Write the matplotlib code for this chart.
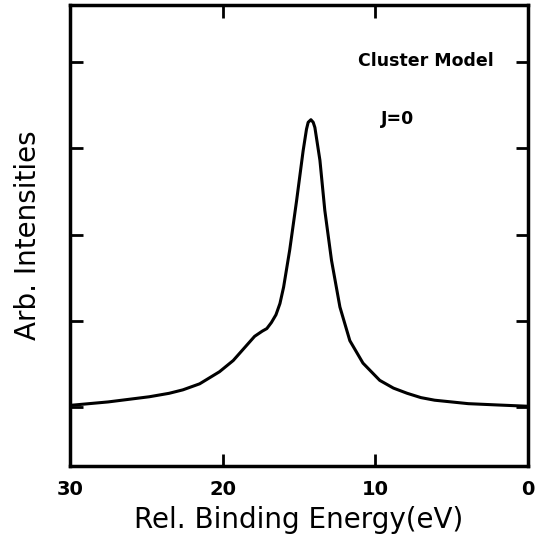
"""Cluster model spectrum (J=0): arbitrary intensity vs relative binding energy."""

import matplotlib.pyplot as plt

# curve values
energy = [30.0, 27.5, 24.8, 23.5, 22.6, 21.5, 20.2, 19.3, 18.5, 17.9, 17.4, 17.1,
          16.8, 16.5, 16.24, 16.0, 15.6, 15.15, 14.72, 14.5, 14.39, 14.21, 14.06,
          13.95, 13.62, 13.3, 12.86, 12.31, 11.66, 10.8, 9.7, 8.8, 7.9, 7.0, 6.1,
          5.0, 3.9, 2.0, 0.0]
intensity = [0.02, 0.06, 0.12, 0.16, 0.20, 0.27, 0.41, 0.54, 0.70, 0.82, 0.88, 0.91,
             0.98, 1.07, 1.20, 1.39, 1.82, 2.39, 2.97, 3.22, 3.30, 3.33, 3.30,
             3.24, 2.86, 2.28, 1.70, 1.16, 0.77, 0.51, 0.31, 0.22, 0.16, 0.11, 0.08,
             0.06, 0.04, 0.025, 0.01]

x_ticks = [30, 20, 10, 0]
y_ticks = [0, 1, 2, 3, 4]

plt.rcParams["font.family"] = "DejaVu Sans"

fig = plt.figure(figsize=(5.38, 5.48), dpi=100)
ax = fig.add_axes([0.130, 0.150, 0.851, 0.841])

ax.plot(energy, intensity, color="black", linewidth=2.2,
        solid_joinstyle="round", solid_capstyle="round")

ax.set_xlim(30, 0)
ax.set_ylim(-0.68, 4.66)
ax.set_xticks(x_ticks)
ax.set_xticklabels([str(t) for t in x_ticks], fontsize=14, fontweight="bold")
ax.set_yticks(y_ticks)
ax.set_yticklabels([])
ax.tick_params(direction="in", length=9, width=2, top=True, right=True, pad=10)
for spine in ax.spines.values():
    spine.set_linewidth(2.5)

ax.set_xlabel("Rel. Binding Energy(eV)", fontsize=20, labelpad=5)
ax.set_ylabel("Arb. Intensities", fontsize=20, labelpad=10)

ax.text(6.7, 4.01, "Cluster Model", fontsize=12.5, fontweight="bold", ha="center", va="center")
ax.text(8.5, 3.34, "J=0", fontsize=12.5, fontweight="bold", ha="center", va="center")

fig.savefig("out.png", dpi=100)
